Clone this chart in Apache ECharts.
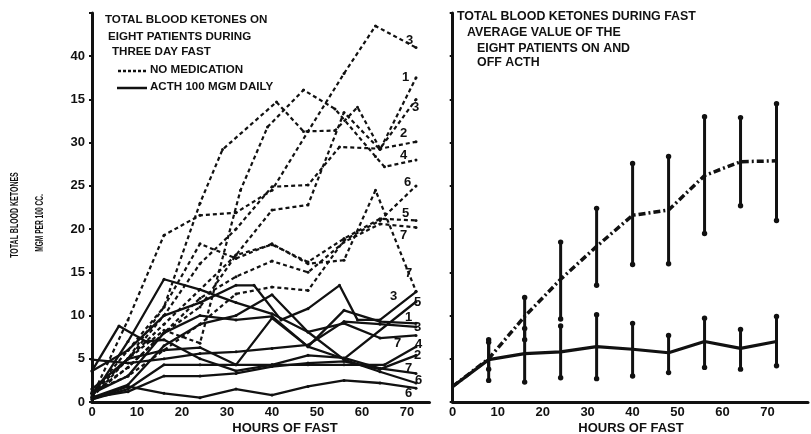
<!DOCTYPE html>
<html><head><meta charset="utf-8">
<script src="https://cdn.jsdelivr.net/npm/echarts/dist/echarts.min.js"></script>
<style>html,body{margin:0;padding:0;background:#fff}#c{width:811px;height:434px}</style>
</head><body><div id="c"></div>
<script>
// ---------- tick labels ----------
const yTickLabels = ['0','5','10','15','20','25','30','15','40'];
const xTickLabels = ['0','10','20','30','40','50','60','70'];

// ---------- left panel: individual patients, no medication (dashed) ----------
const noMed3top = [[0,0.6],[8,9.5],[16,19.3],[24,21.6],[32,21.9],[40,24.5],[48,31.3],[56,38],[63,43.5],[72,41]];
const noMed1    = [[0,1],[8,4],[16,8],[24,11],[32,17],[40,22.2],[48,22.8],[56,33.5],[64,29.2],[72,37.5]];
const noMed3b   = [[0,1.5],[8,5],[16,11],[24,23],[29,29.2],[41,34.7],[47,31.3],[54,31.4],[59,34.1],[64,29.3],[72,35]];
const noMed2    = [[0,1],[8,5],[16,10],[24,16],[32,20],[40,24.9],[48,25.1],[55,29.5],[64,29.3],[72,30.1]];
const noMed4    = [[0,0.5],[8,5],[16,8.3],[24,6.8],[33,24.5],[39,31.8],[47,36.1],[54,33.9],[63,28.4],[65,27.2],[72,28]];
const noMed6    = [[0,1.2],[8,3],[16,6],[24,9],[32,12.5],[40,13.3],[48,12.9],[56,18.7],[64,21],[72,25]];
const noMed5    = [[0,1],[8,5],[16,9],[24,13],[32,17],[40,18.2],[48,16.2],[56,18.9],[64,21.2],[72,21]];
const noMed7    = [[0,0.8],[8,4],[16,8],[24,12],[32,14.5],[40,16.3],[48,15],[56,18.5],[64,20.6],[72,20.2]];
const noMed7b   = [[0,1],[8,6],[16,11],[24,18.3],[32,16.6],[40,18.3],[48,16],[56,16.4],[63,24.5],[72,12.8]];

// ---------- left panel: ACTH 100 mgm daily (solid) ----------
const acth3a = [[0,3.6],[8,6],[16,10],[24,11.5],[32,13.5],[36,13.5],[42,9.5],[48,10.8],[55,13.5],[59,9.5],[64,9.5],[72,12.75]];
const acth5  = [[0,1],[8,3],[16,8],[24,10],[32,9.5],[40,9.9],[48,6.4],[56,5.0],[72,11.6]];
const acth1  = [[0,1.5],[8,5],[16,6],[24,6.3],[32,4.3],[40,9.7],[48,6.4],[56,10.6],[64,9.3],[72,9.1]];
const acth3b = [[0,4.9],[8,4.5],[16,5],[24,5.6],[32,5.8],[40,6.2],[48,6.6],[56,9.3],[64,9],[72,8.7]];
const acth7a = [[0,0.5],[8,2],[16,6.5],[24,9],[32,10],[40,12.4],[48,8.1],[56,9.1],[64,7.4],[72,7.7]];
const acth4  = [[0,0.3],[8,1.5],[16,4.3],[24,4.3],[32,4.3],[40,4.3],[48,4.3],[56,4.3],[65,4.3],[72,6.4]];
const acth2  = [[0,0.5],[8,1.2],[16,3],[24,3],[32,3.3],[40,4.1],[48,4.5],[56,4.7],[64,3.8],[72,5.4]];
const acth7b = [[0,3.6],[6,8.8],[12,7],[16,7.2],[24,5],[32,3.6],[40,4.3],[48,5.4],[56,5.1],[64,3.9],[72,3.3]];
const acth6a = [[0,0.6],[8,7],[16,14.2],[24,13],[32,11.5],[40,10.2],[48,8.1],[56,4.9],[64,3.5],[72,2.2]];
const acth6b = [[0,0.3],[8,1.8],[16,1],[24,0.5],[32,1.5],[40,0.8],[48,1.8],[56,2.5],[64,2.2],[72,1.6]];

// ---------- right panel: averages with ranges ----------
const avgHours   = [0,8,16,24,32,40,48,56,64,72];
const avgNoMed   = [1.8,5.0,9.9,14.2,18.0,21.6,22.2,26.2,27.8,27.9];
const avgActh    = [1.8,4.9,5.6,5.8,6.4,6.1,5.7,7.0,6.2,7.0];
const barHours   = [8,16,24,32,40,48,56,64,72];
const noMedLow   = [3.8,7.2,9.6,13.5,15.9,16.0,19.5,22.7,21.0];
const noMedHigh  = [7.2,12.1,18.5,22.4,27.6,28.4,33.0,32.9,34.5];
const acthLow    = [2.5,2.3,2.8,2.7,3.0,3.4,4.0,3.8,4.2];
const acthHigh   = [6.9,8.5,8.8,10.1,9.1,7.7,9.7,8.4,9.9];

// ---------- series definitions (label text + label offsets are styling) ----------
const dashedSeries = [
  {d: noMed3top, lab:'3', off:[-15,-7]},
  {d: noMed1,    lab:'1', off:[-19,0]},
  {d: noMed3b,   lab:'3', off:[-9,8]},
  {d: noMed2,    lab:'2', off:[-21,-8]},
  {d: noMed4,    lab:'4', off:[-21,-5]},
  {d: noMed6,    lab:'6', off:[-17,-3]},
  {d: noMed5,    lab:'5', off:[-19,-7]},
  {d: noMed7,    lab:'7', off:[-21,8]},
  {d: noMed7b,   lab:'7', off:[-16,-18]}
];
const solidSeries = [
  {d: acth3a, lab:'3', off:[-31,5]},
  {d: acth5,  lab:'5', off:[-7,1]},
  {d: acth1,  lab:'1', off:[-16,-6]},
  {d: acth3b, lab:'3', off:[-7,1]},
  {d: acth7a, lab:'7', off:[-27,8]},
  {d: acth4,  lab:'4', off:[-6,-2]},
  {d: acth2,  lab:'2', off:[-7,0]},
  {d: acth7b, lab:'7', off:[-16,-5]},
  {d: acth6a, lab:'6', off:[-6,-3]},
  {d: acth6b, lab:'6', off:[-16,5]}
];

const FONT = 'Liberation Sans';
const BLACK = '#111';

function lineSeries(s, dashed) {
  return {
    type: 'line', xAxisIndex: 0, yAxisIndex: 0, data: s.d,
    symbol: 'circle', symbolSize: 3, showSymbol: true,
    itemStyle: {color: BLACK},
    lineStyle: {color: BLACK, width: dashed ? 2.2 : 2.3, type: dashed ? [4,3] : 'solid'},
    endLabel: {show: true, formatter: s.lab, offset: s.off, color: BLACK,
               fontFamily: FONT, fontWeight: 'bold', fontSize: 13, distance: 5},
    silent: true, animation: false, z: 3
  };
}

function errorBars(lows, highs) {
  return {
    type: 'custom', xAxisIndex: 1, yAxisIndex: 1,
    data: barHours.map((h, i) => [h, lows[i], highs[i]]),
    renderItem: function (params, api) {
      const x = api.value(0);
      const lo = api.coord([x, api.value(1)]);
      const hi = api.coord([x, api.value(2)]);
      return {type: 'group', children: [
        {type: 'line', shape: {x1: lo[0], y1: lo[1], x2: hi[0], y2: hi[1]}, style: {stroke: BLACK, lineWidth: 3}},
        {type: 'circle', shape: {cx: lo[0], cy: lo[1], r: 2.7}, style: {fill: BLACK}},
        {type: 'circle', shape: {cx: hi[0], cy: hi[1], r: 2.7}, style: {fill: BLACK}}
      ]};
    },
    silent: true, animation: false, z: 4
  };
}

const axisText = {color: BLACK, fontFamily: FONT, fontWeight: 'bold', fontSize: 13};

const option = {
  backgroundColor: '#fff',
  animation: false,
  grid: [
    {left: 92, top: 13, width: 337.5, height: 389},
    {left: 452.7, top: 13, width: 355.5, height: 389}
  ],
  xAxis: [
    {gridIndex: 0, type: 'value', min: 0, max: 75, interval: 10,
     axisLine: {lineStyle: {color: BLACK, width: 3}}, axisTick: {show: false}, splitLine: {show: false},
     axisLabel: Object.assign({margin: 4, formatter: v => (v <= 70 ? xTickLabels[v / 10] : '')}, axisText)},
    {gridIndex: 1, type: 'value', min: 0, max: 79, interval: 10,
     axisLine: {lineStyle: {color: BLACK, width: 3}}, axisTick: {show: false}, splitLine: {show: false},
     axisLabel: Object.assign({margin: 4, formatter: v => (v <= 70 ? xTickLabels[v / 10] : '')}, axisText)}
  ],
  yAxis: [
    {gridIndex: 0, type: 'value', min: 0, max: 45, interval: 5,
     axisLine: {show: true, lineStyle: {color: BLACK, width: 3}},
     axisTick: {show: true, length: 3, lineStyle: {color: BLACK, width: 2}},
     splitLine: {show: false},
     axisLabel: Object.assign({margin: 7, formatter: v => (v <= 40 ? yTickLabels[v / 5] : '')}, axisText)},
    {gridIndex: 1, type: 'value', min: 0, max: 45, interval: 5,
     axisLine: {show: true, lineStyle: {color: BLACK, width: 3}},
     axisTick: {show: true, length: 3, lineStyle: {color: BLACK, width: 2}},
     splitLine: {show: false}, axisLabel: {show: false}}
  ],
  series: [].concat(
    dashedSeries.map(s => lineSeries(s, true)),
    solidSeries.map(s => lineSeries(s, false)),
    [
      errorBars(noMedLow, noMedHigh),
      errorBars(acthLow, acthHigh),
      {type: 'line', xAxisIndex: 1, yAxisIndex: 1, data: avgHours.map((h, i) => [h, avgNoMed[i]]),
       symbol: 'none', lineStyle: {color: BLACK, width: 3.5, type: [7, 3, 2, 3]}, silent: true, animation: false, z: 5},
      {type: 'line', xAxisIndex: 1, yAxisIndex: 1, data: avgHours.map((h, i) => [h, avgActh[i]]),
       symbol: 'none', lineStyle: {color: BLACK, width: 3.2}, silent: true, animation: false, z: 5}
    ]
  ),
  graphic: [
    // left panel title + legend
    {type: 'text', left: 105, top: 14, style: {text: 'TOTAL BLOOD KETONES ON', font: 'bold 11.6px "Liberation Sans"', fill: BLACK}},
    {type: 'text', left: 108, top: 31, style: {text: 'EIGHT PATIENTS DURING', font: 'bold 11.6px "Liberation Sans"', fill: BLACK}},
    {type: 'text', left: 112, top: 46, style: {text: 'THREE DAY FAST', font: 'bold 11.6px "Liberation Sans"', fill: BLACK}},
    {type: 'line', shape: {x1: 118, y1: 71, x2: 147, y2: 71}, style: {stroke: BLACK, lineWidth: 2.5, lineDash: [3, 2]}},
    {type: 'text', left: 150, top: 64, style: {text: 'NO MEDICATION', font: 'bold 11.6px "Liberation Sans"', fill: BLACK}},
    {type: 'line', shape: {x1: 117, y1: 88, x2: 147, y2: 88}, style: {stroke: BLACK, lineWidth: 2.5}},
    {type: 'text', left: 150, top: 81, style: {text: 'ACTH 100 MGM DAILY', font: 'bold 11.6px "Liberation Sans"', fill: BLACK}},
    // right panel title
    {type: 'text', left: 457, top: 11, style: {text: 'TOTAL BLOOD KETONES DURING FAST', font: 'bold 12.4px "Liberation Sans"', fill: BLACK}},
    {type: 'text', left: 467, top: 27, style: {text: 'AVERAGE VALUE OF THE', font: 'bold 12.4px "Liberation Sans"', fill: BLACK}},
    {type: 'text', left: 477, top: 43, style: {text: 'EIGHT PATIENTS ON AND', font: 'bold 12.4px "Liberation Sans"', fill: BLACK}},
    {type: 'text', left: 477, top: 57, style: {text: 'OFF ACTH', font: 'bold 12.4px "Liberation Sans"', fill: BLACK}},
    // x-axis names
    {type: 'text', x: 285, y: 428, style: {text: 'HOURS OF FAST', font: 'bold 13px "Liberation Sans"', fill: BLACK, align: 'center', verticalAlign: 'middle'}},
    {type: 'text', x: 631, y: 428, style: {text: 'HOURS OF FAST', font: 'bold 13px "Liberation Sans"', fill: BLACK, align: 'center', verticalAlign: 'middle'}},
    // y-axis name (two vertical lines, condensed lettering)
    {type: 'text', x: 15, y: 215, rotation: Math.PI / 2, scaleX: 0.7, style: {text: 'TOTAL BLOOD KETONES', font: 'bold 10px "Liberation Sans"', fill: BLACK, align: 'center', verticalAlign: 'middle'}},
    {type: 'text', x: 40, y: 223, rotation: Math.PI / 2, scaleX: 0.66, style: {text: 'MGM PER 100 CC.', font: 'bold 10px "Liberation Sans"', fill: BLACK, align: 'center', verticalAlign: 'middle'}}
  ]
};

const chart = echarts.init(document.getElementById('c'), null, {renderer: 'canvas'});
chart.setOption(option);
</script>
</body></html>
